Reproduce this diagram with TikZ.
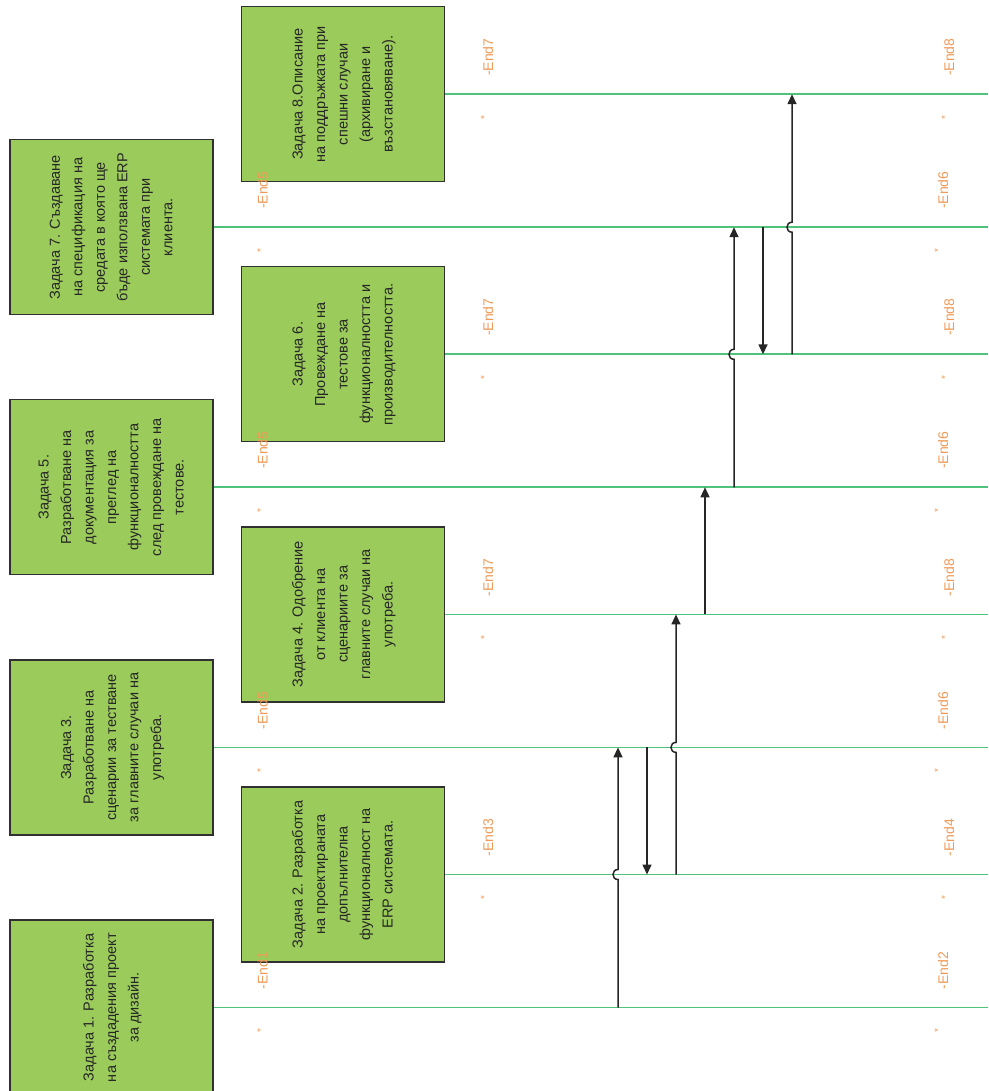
\documentclass[tikz,border=0pt]{standalone}
\usepackage{fontspec}
\setmainfont{Liberation Sans}
\usetikzlibrary{arrows.meta,calc,positioning}
\definecolor{taskgreen}{HTML}{9BCB5B}
\definecolor{ink}{HTML}{262626}
\definecolor{edgeline}{HTML}{303030}
\definecolor{linkgreen}{HTML}{4FC27C}
\definecolor{endorange}{HTML}{EF9A58}
\newcommand{\tasktext}[1]{\rotatebox{90}{\begin{tabular}{@{}c@{}}#1\end{tabular}}}
\tikzset{
  task/.style={
    rectangle,
    draw=edgeline,
    line width=1.3pt,
    fill=taskgreen,
    minimum width=203pt,
    minimum height=175pt,
    inner sep=0pt,
    text=ink,
    font=\fontsize{14.5}{22.5}\selectfont
  },
  link/.style={
    draw=linkgreen,
    line width=1.8pt
  },
  flow/.style={
    -{Triangle[length=10pt,width=9pt]},
    draw=ink,
    line width=1.5pt
  },
  endlabel/.style={
    rotate=90,
    inner sep=0pt,
    text=endorange,
    font=\fontsize{14}{16}\selectfont
  },
  endmark/.style={
    endlabel,
    font=\fontsize{10}{11}\selectfont
  }
}

\begin{document}
\begin{tikzpicture}[x=1pt, y=-1pt]
  \useasboundingbox (0,0) rectangle (988,1091);
  \coordinate (edge) at (988,0);

  % left column
  \node[task] (t1) at (111.5,1007.5) {\tasktext{Задача 1. Разработка\\на създадения проект\\за дизайн.}};
  \node[task, above=83.8pt of t1] (t3) {\tasktext{Задача 3.\\Разработване на\\сценарии за тестване\\за главните случаи на\\употреба.}};
  \node[task, above=83.8pt of t3] (t5) {\tasktext{Задача 5.\\Разработване на\\документация за\\преглед на\\функционалността\\след провеждане на\\тестове.}};
  \node[task, above=83.8pt of t5] (t7) {\tasktext{Задача 7. Създаване\\на спецификация на\\средата в която ще\\бъде използвана ERP\\системата при\\клиента.}};

  % right column
  \node[task] (t2) at (343,874.5) {\tasktext{Задача 2. Разработка\\на проектираната\\допълнителна\\функционалност на\\ERP системата.}};
  \node[task, above=83.8pt of t2] (t4) {\tasktext{Задача 4. Одобрение\\от клиента на\\сценариите за\\главните случаи на\\употреба.}};
  \node[task, above=83.8pt of t4] (t6) {\tasktext{Задача 6.\\Провеждане на\\тестове за\\функционалността и\\производителността.}};
  \node[task, above=83.8pt of t6] (t8) {\tasktext{Задача 8.Описание\\на поддръжката при\\спешни случаи\\(архивиране и\\възстановяване).}};

  % task lines
  \draw[link] (t1.east) -- (t1.east -| edge);
  \draw[link] (t2.east) -- (t2.east -| edge);
  \draw[link] (t3.east) -- (t3.east -| edge);
  \draw[link] (t4.east) -- (t4.east -| edge);
  \draw[link] (t5.east) -- (t5.east -| edge);
  \draw[link] (t6.east) -- (t6.east -| edge);
  \draw[link] (t7.east) -- (t7.east -| edge);
  \draw[link] (t8.east) -- (t8.east -| edge);

  % end labels
  \node[endlabel] (l1a) at ($(t1.east)+(49,-37)$) {-End1};
  \node[endmark] (m1a) at ($(t1.east)+(47,23)$) {*};
  \node[endlabel] (l1b) at ($(t1.east -| edge)+(-45,-37)$) {-End2};
  \node[endmark] (m1b) at ($(t1.east -| edge)+(-50,23)$) {*};
  \node[endlabel] (l2a) at ($(t2.east)+(43,-37)$) {-End3};
  \node[endmark] (m2a) at ($(t2.east)+(39,23)$) {*};
  \node[endlabel] (l2b) at ($(t2.east -| edge)+(-39,-37)$) {-End4};
  \node[endmark] (m2b) at ($(t2.east -| edge)+(-43,23)$) {*};
  \node[endlabel] (l3a) at ($(t3.east)+(49,-37)$) {-End5};
  \node[endmark] (m3a) at ($(t3.east)+(47,23)$) {*};
  \node[endlabel] (l3b) at ($(t3.east -| edge)+(-45,-37)$) {-End6};
  \node[endmark] (m3b) at ($(t3.east -| edge)+(-50,23)$) {*};
  \node[endlabel] (l4a) at ($(t4.east)+(43,-37)$) {-End7};
  \node[endmark] (m4a) at ($(t4.east)+(39,23)$) {*};
  \node[endlabel] (l4b) at ($(t4.east -| edge)+(-39,-37)$) {-End8};
  \node[endmark] (m4b) at ($(t4.east -| edge)+(-43,23)$) {*};
  \node[endlabel] (l5a) at ($(t5.east)+(49,-37)$) {-End5};
  \node[endmark] (m5a) at ($(t5.east)+(47,23)$) {*};
  \node[endlabel] (l5b) at ($(t5.east -| edge)+(-45,-37)$) {-End6};
  \node[endmark] (m5b) at ($(t5.east -| edge)+(-50,23)$) {*};
  \node[endlabel] (l6a) at ($(t6.east)+(43,-37)$) {-End7};
  \node[endmark] (m6a) at ($(t6.east)+(39,23)$) {*};
  \node[endlabel] (l6b) at ($(t6.east -| edge)+(-39,-37)$) {-End8};
  \node[endmark] (m6b) at ($(t6.east -| edge)+(-43,23)$) {*};
  \node[endlabel] (l7a) at ($(t7.east)+(49,-37)$) {-End5};
  \node[endmark] (m7a) at ($(t7.east)+(47,23)$) {*};
  \node[endlabel] (l7b) at ($(t7.east -| edge)+(-45,-37)$) {-End6};
  \node[endmark] (m7b) at ($(t7.east -| edge)+(-50,23)$) {*};
  \node[endlabel] (l8a) at ($(t8.east)+(43,-37)$) {-End7};
  \node[endmark] (m8a) at ($(t8.east)+(39,23)$) {*};
  \node[endlabel] (l8b) at ($(t8.east -| edge)+(-39,-37)$) {-End8};
  \node[endmark] (m8b) at ($(t8.east -| edge)+(-43,23)$) {*};

  % order of the tasks
  \coordinate (c1) at (618,0);
  \coordinate (c2) at (647,0);
  \coordinate (c3) at (676,0);
  \coordinate (c4) at (705,0);
  \coordinate (c5) at (734,0);
  \coordinate (c6) at (763,0);
  \coordinate (c7) at (792,0);
  \draw[flow] (t1.east -| c1) -- ($(t2.east -| c1)+(0,5)$) .. controls +(-6.7,0) and +(-6.7,0) .. ($(t2.east -| c1)+(0,-5)$) -- (t3.east -| c1);
  \draw[flow] (t3.east -| c2) -- (t2.east -| c2);
  \draw[flow] (t2.east -| c3) -- ($(t3.east -| c3)+(0,5)$) .. controls +(-6.7,0) and +(-6.7,0) .. ($(t3.east -| c3)+(0,-5)$) -- (t4.east -| c3);
  \draw[flow] (t4.east -| c4) -- (t5.east -| c4);
  \draw[flow] (t5.east -| c5) -- ($(t6.east -| c5)+(0,5)$) .. controls +(-6.7,0) and +(-6.7,0) .. ($(t6.east -| c5)+(0,-5)$) -- (t7.east -| c5);
  \draw[flow] (t7.east -| c6) -- (t6.east -| c6);
  \draw[flow] (t6.east -| c7) -- ($(t7.east -| c7)+(0,5)$) .. controls +(-6.7,0) and +(-6.7,0) .. ($(t7.east -| c7)+(0,-5)$) -- (t8.east -| c7);
\end{tikzpicture}
\end{document}
